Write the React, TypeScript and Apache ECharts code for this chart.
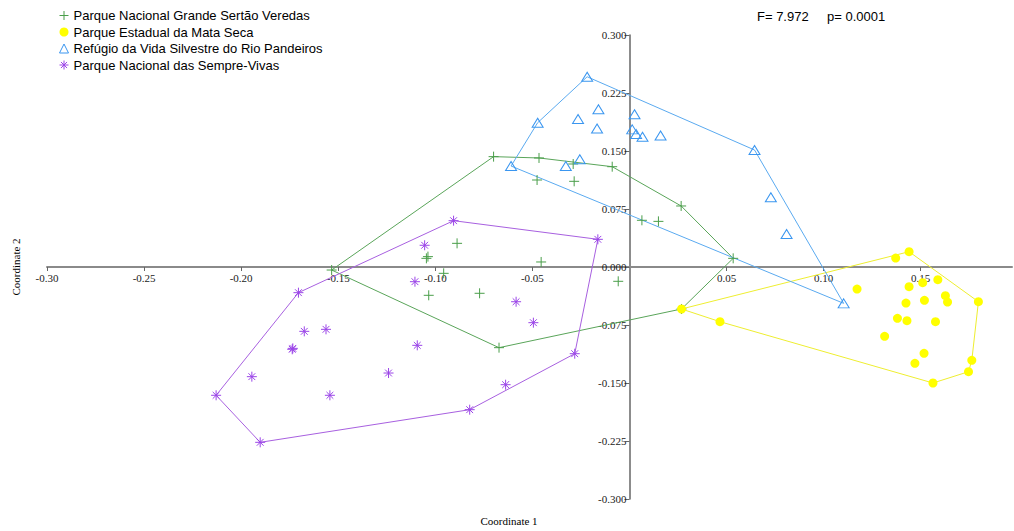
import React, { useEffect, useRef } from "react";
import * as echarts from "echarts";

const groupNames = [
  "Parque Nacional Grande Sertão Veredas",
  "Parque Estadual da Mata Seca",
  "Refúgio da Vida Silvestre do Rio Pandeiros",
  "Parque Nacional das Sempre-Vivas",
];

const sertaoPoints: [number, number][] = [
  [-0.070, 0.1427], [-0.0466, 0.141], [-0.029, 0.1332], [-0.0089, 0.1297],
  [0.0266, 0.0789], [-0.0476, 0.1125], [-0.0285, 0.1108], [0.0064, 0.0604],
  [0.0149, 0.059], [-0.1534, -0.0039], [-0.0888, 0.0306], [-0.1046, 0.0112],
  [-0.1038, 0.0134], [-0.0957, -0.0082], [-0.1034, -0.0366], [-0.0772, -0.034],
  [-0.0455, 0.0065], [-0.0058, -0.0185], [-0.0672, -0.1043], [0.0534, 0.0112],
  [0.0268, -0.0543],
];

const mataSecaPoints: [number, number][] = [
  [0.144, 0.0198], [0.1371, 0.0116], [0.1797, -0.0449], [0.1763, -0.1207],
  [0.1746, -0.1354], [0.1563, -0.150], [0.0466, -0.0707], [0.0268, -0.0543],
  [0.1172, -0.0285], [0.144, -0.0255], [0.151, -0.0203], [0.1588, -0.0164],
  [0.1627, -0.0371], [0.1638, -0.0453], [0.1424, -0.0466], [0.1519, -0.0431],
  [0.138, -0.0664], [0.1429, -0.0694], [0.1576, -0.0707], [0.1314, -0.0896],
  [0.1517, -0.1116], [0.147, -0.1245],
];

const pandeirosPoints: [number, number][] = [
  [-0.0218, 0.246], [-0.0473, 0.1866], [-0.061, 0.1306], [-0.0265, 0.1914],
  [-0.016, 0.204], [-0.0167, 0.179], [0.0026, 0.1975], [0.0014, 0.178],
  [0.0034, 0.172], [0.0067, 0.1685], [0.016, 0.170], [0.0644, 0.1513],
  [0.0728, 0.0901], [0.0809, 0.0427], [-0.0256, 0.1393], [-0.0328, 0.1306],
  [0.1103, -0.047],
];

const sempreVivasPoints: [number, number][] = [
  [-0.0906, 0.0599], [-0.0163, 0.0358], [-0.0282, -0.1121], [-0.0823, -0.1845],
  [-0.1902, -0.2267], [-0.2129, -0.1659], [-0.1705, -0.0332], [-0.1055, 0.0281],
  [-0.1105, -0.019], [-0.0584, -0.0449], [-0.0495, -0.072], [-0.1675, -0.0832],
  [-0.1563, -0.0806], [-0.1737, -0.1064], [-0.1734, -0.1052], [-0.1093, -0.1013],
  [-0.1945, -0.1418], [-0.1543, -0.1659], [-0.1241, -0.1371], [-0.0638, -0.1522],
];

const xMin = -0.3;
const xMax = 0.197;
const yMin = -0.3;
const yMax = 0.3;
const xTickValues = [-0.3, -0.25, -0.2, -0.15, -0.1, -0.05, 0.05, 0.1, 0.15];
const statF = "F= 7.972";
const statP = "p= 0.0001";

const plusPath = "path://M5,0L5,10M0,5L10,5";
const starPath = "path://M5,0L5,10M0,5L10,5M1.6,1.6L8.4,8.4M8.4,1.6L1.6,8.4";

function convexHull(pts: [number, number][]): [number, number][] {
  const p = pts.slice().sort((a, b) => (a[0] === b[0] ? a[1] - b[1] : a[0] - b[0]));
  const cross = (o: number[], a: number[], b: number[]) =>
    (a[0] - o[0]) * (b[1] - o[1]) - (a[1] - o[1]) * (b[0] - o[0]);
  const lower: [number, number][] = [];
  for (const q of p) {
    while (lower.length >= 2 && cross(lower[lower.length - 2], lower[lower.length - 1], q) <= 0) lower.pop();
    lower.push(q);
  }
  const upper: [number, number][] = [];
  for (let i = p.length - 1; i >= 0; i--) {
    const q = p[i];
    while (upper.length >= 2 && cross(upper[upper.length - 2], upper[upper.length - 1], q) <= 0) upper.pop();
    upper.push(q);
  }
  lower.pop();
  upper.pop();
  return lower.concat(upper);
}

function hullEdges(pts: [number, number][]): number[][] {
  const h = convexHull(pts);
  return h.map((p, i) => {
    const q = h[(i + 1) % h.length];
    return [p[0], p[1], q[0], q[1]];
  });
}

export default function App() {
  const ref = useRef<HTMLDivElement>(null);
  useEffect(() => {
    if (!ref.current) return;
    const chart = echarts.init(ref.current, null, { renderer: "svg" });
    const W = 1014, H = 531;
    const grid = { left: 47, right: 2, top: 35, bottom: 32 };
    const gw = W - grid.left - grid.right;
    const gh = H - grid.top - grid.bottom;
    // place the axes through the origin (offset derived from the axis extents)
    const yAxisOffset = -((0 - xMin) / (xMax - xMin)) * gw;
    const xAxisOffset = -((0 - yMin) / (yMax - yMin)) * gh;

    const groups = [
      { name: groupNames[0], pts: sertaoPoints, symbol: plusPath, size: 10, fill: "rgba(0,0,0,0)", stroke: "#4a9e4a", hull: "#5aa55a" },
      { name: groupNames[1], pts: mataSecaPoints, symbol: "circle", size: 9, fill: "#ffff00", stroke: "#ffff00", hull: "#eeee30" },
      { name: groupNames[2], pts: pandeirosPoints, symbol: "triangle", size: 10, fill: "rgba(0,0,0,0)", stroke: "#3a96f0", hull: "#5aaaf0" },
      { name: groupNames[3], pts: sempreVivasPoints, symbol: starPath, size: 10, fill: "rgba(0,0,0,0)", stroke: "#9b45e8", hull: "#a860e0" },
    ];
    const series: any[] = [];
    groups.forEach((g, i) => {
      const color = g.hull;
      series.push({
        name: "hull" + i,
        type: "custom",
        data: hullEdges(g.pts),
        encode: { x: [0, 2], y: [1, 3] },
        silent: true,
        z: 1,
        renderItem: (params: any, api: any) => {
          const a = api.coord([api.value(0), api.value(1)]);
          const b = api.coord([api.value(2), api.value(3)]);
          return {
            type: "line",
            shape: { x1: a[0], y1: a[1], x2: b[0], y2: b[1] },
            style: { stroke: color, lineWidth: 1, fill: null },
          };
        },
      });
    });
    groups.forEach((g) => {
      series.push({
        name: g.name,
        type: "scatter",
        data: g.pts,
        symbol: g.symbol,
        symbolSize: g.symbol === "triangle" ? [11, 9] : g.size,
        z: 3,
        itemStyle: {
          color: g.fill,
          borderColor: g.stroke,
          borderWidth: g.symbol === "circle" ? 0 : 1,
          opacity: 1,
        },
      });
    });
    chart.setOption({
      animation: false,
      grid: { ...grid, containLabel: false },
      legend: {
        left: 54,
        top: 4,
        orient: "vertical",
        itemWidth: 9,
        itemHeight: 9,
        itemGap: 3.5,
        data: groups.map((g) => ({
          name: g.name,
          icon: g.symbol,
          itemStyle: {
            color: g.fill,
            borderColor: g.stroke,
            borderWidth: g.symbol === "circle" ? 0 : 1,
          },
        })),
        textStyle: { fontFamily: "Liberation Sans, Arial, sans-serif", fontSize: 13, color: "#000" },
        selectedMode: false,
      },
      xAxis: {
        type: "value",
        min: xMin,
        max: xMax,
        interval: 0.05,
        position: "bottom",
        offset: xAxisOffset,
        splitLine: { show: false },
        axisLine: { onZero: false, lineStyle: { color: "#8a8a8a", width: 2 } },
        axisTick: { show: true, length: 4, customValues: xTickValues, lineStyle: { color: "#666", width: 1 } },
        axisLabel: {
          customValues: xTickValues,
          formatter: (v: number) => v.toFixed(2),
          fontFamily: "Liberation Serif, serif",
          fontSize: 11,
          color: "#222",
          margin: 5,
        },
      },
      yAxis: {
        type: "value",
        min: yMin,
        max: yMax,
        interval: 0.075,
        position: "left",
        offset: yAxisOffset,
        splitLine: { show: false },
        axisLine: { onZero: false, lineStyle: { color: "#666", width: 1.5 } },
        axisTick: { show: true, length: 5, lineStyle: { color: "#666", width: 1 } },
        axisLabel: {
          formatter: (v: number) => v.toFixed(3),
          fontFamily: "Liberation Serif, serif",
          fontSize: 11,
          color: "#222",
          margin: 3,
        },
      },
      graphic: [
        { type: "text", left: 757, top: 10, style: { text: statF, font: "13px 'Liberation Sans', Arial, sans-serif", fill: "#000" } },
        { type: "text", left: 827, top: 10, style: { text: statP, font: "13px 'Liberation Sans', Arial, sans-serif", fill: "#000" } },
        { type: "text", x: 509, y: 521, style: { text: "Coordinate 1", font: "11px 'Liberation Serif', serif", fill: "#000", align: "center", verticalAlign: "middle" } },
        { type: "text", x: 16, y: 267, rotation: Math.PI / 2, style: { text: "Coordinate 2", font: "11px 'Liberation Serif', serif", fill: "#000", align: "center", verticalAlign: "middle" } },
      ],
      series,
    });
    return () => chart.dispose();
  }, []);
  return (
    <div
      ref={ref}
      style={{ position: "fixed", left: 0, top: 0, width: 1014, height: 531, background: "#fff" }}
    />
  );
}
